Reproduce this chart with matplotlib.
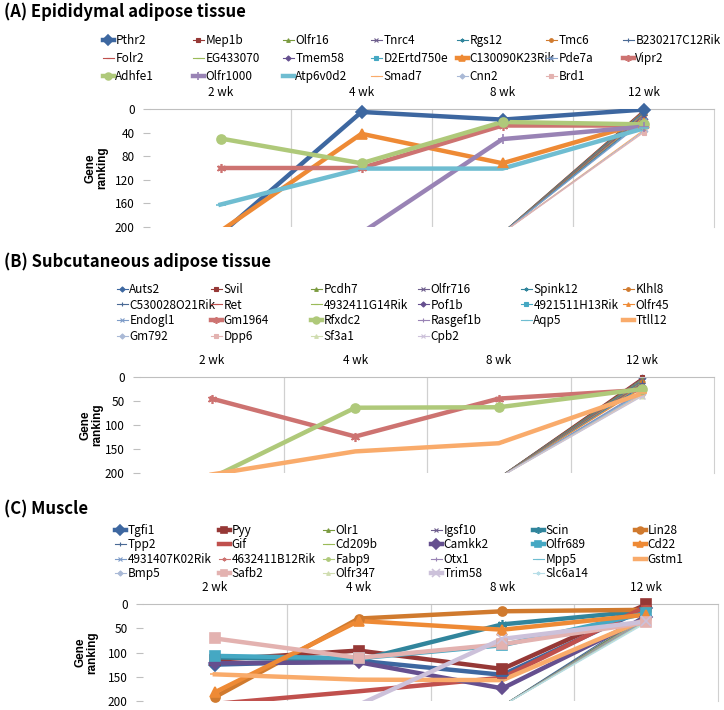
import matplotlib.pyplot as plt
import numpy as np

plt.rcParams['font.family'] = ['Noto Sans CJK KR', 'DejaVu Sans']

W, H = 724, 710
weeks = ["2 wk", "4 wk", "8 wk", "12 wk"]

# ranks above 200 are off the chart (not in top 200)
# (A) Epididymal adipose tissue
genes_a = ["Pthr2", "Mep1b", "Olfr16", "Tnrc4", "Rgs12", "Tmc6", "B230217C12Rik",
           "Folr2", "EG433070", "Tmem58", "D2Ertd750e", "C130090K23Rik", "Pde7a", "Vipr2",
           "Adhfe1", "Olfr1000", "Atp6v0d2", "Smad7", "Cnn2", "Brd1"]
a_2wk = [212, 210, 210, 210, 210, 210, 210, 210, 210, 210, 210, 207, 210, 100, 50, 210, 162, 210, 210, 210]
a_4wk = [5, 210, 210, 210, 210, 210, 210, 210, 210, 210, 210, 42, 210, 100, 92, 210, 101, 210, 210, 210]
a_8wk = [18, 210, 210, 210, 210, 210, 210, 210, 210, 210, 210, 92, 210, 28, 22, 51, 101, 210, 210, 210]
a_12wk = [1, 2, 4, 5, 7, 9, 11, 13, 15, 17, 19, 23, 21, 28, 26, 30, 33, 36, 38, 40]

# (B) Subcutaneous adipose tissue
genes_b = ["Auts2", "Svil", "Pcdh7", "Olfr716", "Spink12", "Klhl8", "C530028O21Rik", "Ret",
           "4932411G14Rik", "Pof1b", "4921511H13Rik", "Olfr45", "Endogl1", "Gm1964", "Rfxdc2",
           "Rasgef1b", "Aqp5", "Ttll12", "Gm792", "Dpp6", "Sf3a1", "Cpb2"]
b_2wk = [210] * 13 + [45, 210, 210, 210, 203, 210, 210, 210, 210]
b_4wk = [210] * 13 + [124, 64, 210, 210, 155, 210, 210, 210, 210]
b_8wk = [210] * 13 + [45, 63, 210, 210, 138, 210, 210, 210, 210]
b_12wk = [3, 1, 5, 7, 9, 11, 13, 15, 17, 19, 21, 23, 29, 27, 25, 31, 33, 34, 35, 37, 39, 40]

# (C) Muscle
genes_c = ["Tgfi1", "Pyy", "Olr1", "Igsf10", "Scin", "Lin28", "Tpp2", "Gif", "Cd209b", "Camkk2",
           "Olfr689", "Cd22", "4931407K02Rik", "4632411B12Rik", "Fabp9", "Otx1", "Mpp5", "Gstm1",
           "Bmp5", "Safb2", "Olfr347", "Trim58", "Slc6a14"]
c_2wk = [125, 115, 210, 210, 110, 192, 210, 206, 210, 122, 107, 182, 210, 210, 210, 210, 210, 145, 210, 71, 210, 210, 210]
c_4wk = [117, 96, 210, 210, 116, 30, 210, 180, 210, 120, 112, 35, 210, 210, 210, 210, 210, 156, 210, 111, 210, 208, 210]
c_8wk = [146, 134, 210, 210, 42, 15, 210, 152, 210, 174, 85, 53, 210, 210, 210, 210, 210, 157, 210, 83, 210, 72, 210]
c_12wk = [9, 1, 24, 26, 14, 12, 20, 5, 28, 27, 19, 22, 30, 32, 33, 34, 35, 31, 36, 38, 37, 36, 39]

# Excel-like series colours / markers (cycled by series index)
palette = ["#3d67a0", "#963836", "#7a9a3e", "#6f5f8e", "#31859c", "#d07a2e",
           "#4a6a95", "#c0504d", "#9bbb59", "#654f8f", "#45a8c3", "#ee8a35",
           "#7e9cc8", "#cd7371", "#afc97a", "#9983b5", "#6fbdd1", "#f9ab6b",
           "#a9b9d6", "#e3b2b0", "#d0ddb0", "#ccc1da", "#b7dee8"]
markers = ["D", "s", "^", "x", (6, 2, 0), "o", "+", "_", "_"]

thick_a = ["Pthr2", "C130090K23Rik", "Vipr2", "Adhfe1", "Olfr1000", "Atp6v0d2"]
thick_b = ["Gm1964", "Rfxdc2", "Ttll12"]
thick_c = ["Tgfi1", "Pyy", "Scin", "Lin28", "Gif", "Camkk2", "Olfr689", "Cd22", "Gstm1", "Safb2", "Trim58"]

fig = plt.figure(figsize=(W / 100, H / 100), dpi=100)


def axes_px(left, top, right, bottom):
    return fig.add_axes([left / W, 1 - bottom / H, (right - left) / W, (bottom - top) / H])


def panel(title, title_y, genes, cols, thick, yticks, box, label_x, leg_x, leg_top, leg_space):
    ax = axes_px(*box)
    x = np.arange(1, 5)
    handles = []
    for i, g in enumerate(genes):
        vals = np.array([c[i] for c in cols], dtype=float)
        big = g in thick
        col = palette[i % len(palette)]
        mk = markers[i % len(markers)]
        lw = 3.2 if big else 0.8
        ms = 6.5 if big else 3.5
        if mk in ("x", "+"):
            ms = ms + 1
        ln, = ax.plot(x, vals, color=col, lw=lw, marker=mk, ms=ms, mfc=col, mec=col,
                      mew=1.2 if big else 0.8, solid_joinstyle='round', zorder=3 if big else 2)
        ln.set_markevery([])
        inside = vals <= 200
        ax.plot(x[inside], vals[inside], ls='none', marker=mk, ms=ms, mfc=col, mec=col,
                mew=1.2 if big else 0.8, clip_on=False, zorder=4 if big else 2)
        handles.append(ln)
    ax.set_xlim(0.5, 4.5)
    ax.set_ylim(200, 0)
    ax.set_yticks(yticks)
    ax.set_xticks(x)
    ax.set_xticklabels(weeks)
    ax.xaxis.tick_top()
    ax.tick_params(axis='x', length=0, pad=7, labelsize=8.5)
    ax.tick_params(axis='y', length=5, color='#bfbfbf', labelsize=8.5, pad=6)
    ax.set_xticks([1.5, 2.5, 3.5], minor=True)
    ax.tick_params(axis='x', which='minor', length=0)
    ax.grid(which='minor', axis='x', color='#d0d0d0', lw=0.9)
    for s in ('left', 'bottom'):
        ax.spines[s].set_visible(False)
    ax.spines['top'].set_color('#bfbfbf')
    ax.spines['right'].set_color('#d0d0d0')
    ax.set_facecolor('none')
    mid = (box[1] + box[3]) / 2
    fig.text(label_x / W, 1 - mid / H, "Gene\nranking", rotation=90, ha='center', va='center',
             fontsize=8.5, fontweight='bold', family='Liberation Sans', multialignment='center',
             linespacing=1.0)
    fig.text(4 / W, 1 - title_y / H, title, ha='left', va='center', fontsize=12, fontweight='bold')
    ncol = len(leg_x)
    for c in range(ncol):
        idx = list(range(c, len(genes), ncol))
        lg = fig.legend([handles[i] for i in idx], [genes[i] for i in idx], loc='upper left',
                        bbox_to_anchor=(leg_x[c] / W, 1 - leg_top / H), frameon=False,
                        borderpad=0, borderaxespad=0, handlelength=0.9, handletextpad=0.15,
                        labelspacing=leg_space, fontsize=8.5, markerscale=0.75)
        for lh in lg.legend_handles:
            lh.set_markevery([1])
    return ax


panel("(A) Epididymal adipose tissue", 12, genes_a, [a_2wk, a_4wk, a_8wk, a_12wk], thick_a,
      [0, 40, 80, 120, 160, 200], (150, 109, 714, 227), 96,
      [103, 193, 283, 371, 457, 546, 623], 34, 0.42)
panel("(B) Subcutaneous adipose tissue", 262, genes_b, [b_2wk, b_4wk, b_8wk, b_12wk], thick_b,
      [0, 50, 100, 150, 200], (140, 377, 714, 473), 91,
      [117, 211, 311, 418, 521, 623], 283, 0.22)
panel("(C) Muscle", 509, genes_c, [c_2wk, c_4wk, c_8wk, c_12wk], thick_c,
      [0, 50, 100, 150, 200], (143, 604, 718, 701), 86,
      [115, 219, 323, 431, 533, 635], 524, 0.12)

fig.savefig("out.png", dpi=100)
